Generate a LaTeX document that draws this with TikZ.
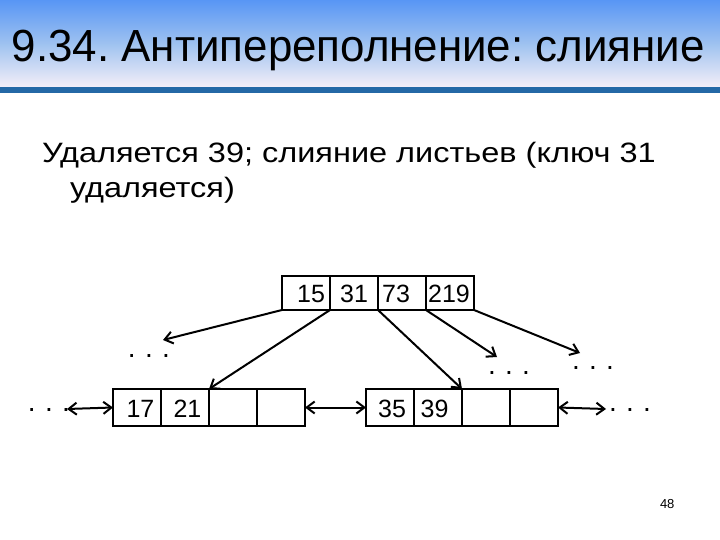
\documentclass[tikz,border=0pt]{standalone}
\usepackage{fontspec}
\setmainfont{Liberation Sans}
\usepackage{tikz}
\usetikzlibrary{arrows.meta}
\frenchspacing

\definecolor{bartop}{RGB}{88,150,245}
\definecolor{barmid}{RGB}{158,194,240}
\definecolor{barbot}{RGB}{244,238,248}
\definecolor{barline}{RGB}{36,104,166}

\begin{document}
\begin{tikzpicture}[
		x=1pt, y=-1pt,
		every node/.style={inner sep=0pt, outer sep=0pt},
		cell/.style={rectangle, draw, line width=2pt, minimum width=48pt},
		topcell/.style={cell, minimum height=34pt},
		leafcell/.style={cell, minimum height=37pt},
		num/.style={font=\fontsize{25}{28}\selectfont},
		dots/.style={font=\fontsize{28}{30}\selectfont, anchor=base},
		ptr/.style={line width=2pt, -{Straight Barb[length=8pt, width=12pt, line width=2pt]}},
		link/.style={line width=2pt, {Straight Barb[length=8pt, width=12pt, line width=2pt]}-{Straight Barb[length=8pt, width=12pt, line width=2pt]}}
	]
  \useasboundingbox (0,0) rectangle (720,540);
  % title bar
  \shade[top color=bartop, bottom color=barbot, middle color=barmid] (0,0) rectangle (720,87);
  \fill[barline] (0,87) rectangle (720,93);
  \node (title) [anchor=base west, font=\fontsize{45}{50}\selectfont] at (12,62) {\scalebox{0.975}[1]{9.34. Антипереполнение: слияние}};
  \node (line_1) [anchor=base west, font=\fontsize{28}{32}\selectfont] at (42,163) {\scalebox{1.16}[1]{Удаляется 39; слияние листьев (ключ 31}};
  \node (line_2) [anchor=base west, font=\fontsize{28}{32}\selectfont] at (70,198) {\scalebox{1.16}[1]{удаляется)}};
  \node (page) [anchor=base west, font=\fontsize{13}{15}\selectfont] at (660,508) {48};

  % inner node
  \node (t_1) [topcell] at (306,293) {};
  \node (t_2) [topcell] at (354,293) {};
  \node (t_3) [topcell] at (402,293) {};
  \node (t_4) [topcell] at (450,293) {};
  \node (k_15) [num] at (311,294) {15};
  \node (k_31) [num] at (354,294) {31};
  \node (k_73) [num] at (396,294) {73};
  \node (k_219) [num] at (449,294) {219};

  % leaves
  \node (a_1) [leafcell] at (137,407.5) {};
  \node (a_2) [leafcell] at (185,407.5) {};
  \node (a_3) [leafcell] at (233,407.5) {};
  \node (a_4) [leafcell] at (281,407.5) {};
  \node (k_17) [num] at (140.5,409) {17};
  \node (k_21) [num] at (187.5,409) {21};
  \node (b_1) [leafcell] at (390,407.5) {};
  \node (b_2) [leafcell] at (438,407.5) {};
  \node (b_3) [leafcell] at (486,407.5) {};
  \node (b_4) [leafcell] at (534,407.5) {};
  \node (k_35) [num] at (392,409) {35};
  \node (k_39) [num] at (434.5,409) {39};

  % dots
  \node (d_left) [dots] at (149,357) {.\,\,.\,\,.};
  \node (d_mid) [dots] at (509,374) {.\,\,.\,\,.};
  \node (d_right) [dots] at (593,369) {.\,\,.\,\,.};
  \node (d_far_left) [dots] at (49,411) {.\,\,.\,\,.};
  \node (d_far_right) [dots] at (630,411) {.\,\,.\,\,.};
  \coordinate (e_left) at (163,340);
  \coordinate (e_mid) at (497,357);
  \coordinate (e_right) at (580,353);
  \coordinate (e_far_left) at (67,409);
  \coordinate (e_far_right) at (606,409);

  \draw[ptr] (t_1.south west) -- (e_left);
  \draw[ptr] (t_1.south east) -- (a_3.north west);
  \draw[ptr] (t_2.south east) -- (b_3.north west);
  \draw[ptr] (t_3.south east) -- (e_mid);
  \draw[ptr] (t_4.south east) -- (e_right);
  \draw[link] (e_far_left) -- (a_1.west);
  \draw[link] (a_4.east) -- (b_1.west);
  \draw[link] (b_4.east) -- (e_far_right);
\end{tikzpicture}
\end{document}
